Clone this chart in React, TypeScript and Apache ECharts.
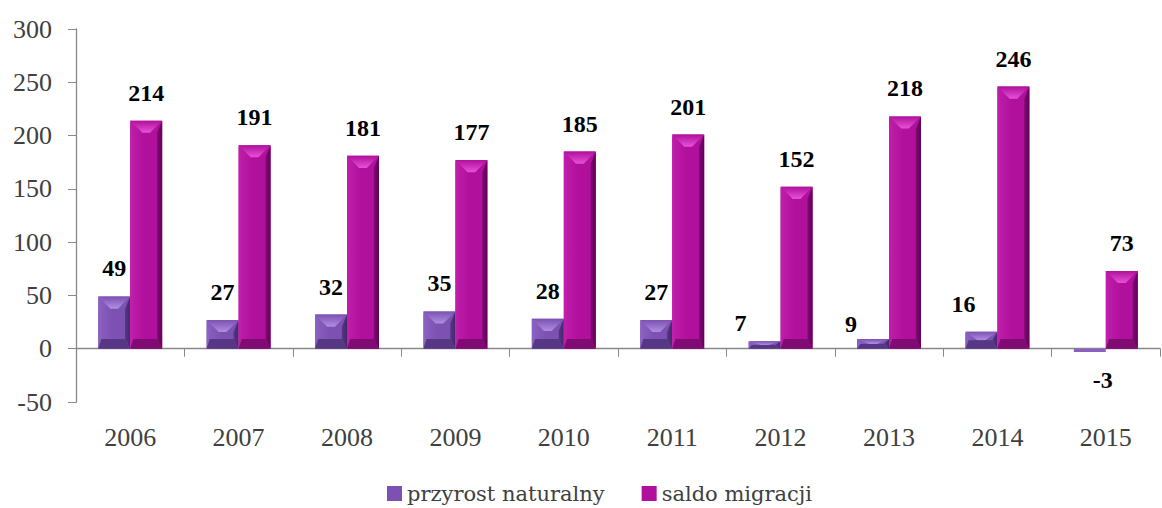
import React, { useEffect, useRef } from "react";
import * as echarts from "echarts";

const years = ["2006", "2007", "2008", "2009", "2010", "2011", "2012", "2013", "2014", "2015"];
const przyrostNaturalny = [49, 27, 32, 35, 28, 27, 7, 9, 16, -3];
const saldoMigracji = [214, 191, 181, 177, 185, 201, 152, 218, 246, 73];
const seriesNames = ["przyrost naturalny", "saldo migracji"];
const yMin = -50;
const yMax = 300;
const yStep = 50;

// manual label nudges (Excel-style hand placement) for the first series, in px
const labelNudge: Record<string, [number, number]> = {
  "2012": [-24, 10],
  "2013": [-22, 13],
  "2014": [-18, 0],
  "2015": [13, 0],
};

const palettes = [
  { face: "#7C51B2", light: "#B08EE2", left: "#8A60C1", dark: "#42296A", bottom: "#553783" },
  { face: "#B0109B", light: "#E652D8", left: "#BE1EAA", dark: "#62005A", bottom: "#800B72" },
];

function makeRender(si: number) {
  const pal = palettes[si];
  return (params: any, api: any) => {
    const i = api.value(0);
    const v = api.value(1);
    const base = api.coord([i, 0]);
    const tip = api.coord([i, v]);
    const band = api.size([1, 0])[0];
    const w = band * 0.295;
    const xc = base[0];
    const x0 = si === 0 ? xc - w : xc;
    const x1 = x0 + w;
    const xm = x0 + w / 2;
    const yTop = Math.min(base[1], tip[1]);
    const yBot = Math.max(base[1], tip[1]);
    const h = yBot - yTop;
    const children: any[] = [];
    if (h < 6) {
      children.push({ type: "rect", shape: { x: x0, y: yTop, width: w, height: h }, style: { fill: pal.left } });
    } else {
      const sl = w * 0.1;
      const sr = w * 0.16;
      const t = Math.min(w * 0.38, h / 2);
      const bt = Math.min(w * 0.3, h / 2);
      children.push({
        type: "rect",
        shape: { x: x0, y: yTop, width: w, height: h },
        style: {
          fill: new echarts.graphic.LinearGradient(0, 0, 1, 0, [
            { offset: 0, color: pal.left },
            { offset: 0.45, color: pal.face },
            { offset: 1, color: pal.face },
          ]),
        },
      });
      children.push({
        type: "polygon",
        shape: { points: [[x0, yTop], [x0 + sl, yTop + t], [x0 + sl, yBot - bt], [x0, yBot]] },
        style: { fill: pal.left },
      });
      children.push({
        type: "polygon",
        shape: { points: [[x1, yTop], [x1 - sr, yTop + t], [x1 - sr, yBot - bt], [x1, yBot]] },
        style: {
          fill: new echarts.graphic.LinearGradient(0, 0, 1, 0, [
            { offset: 0, color: pal.bottom },
            { offset: 1, color: pal.dark },
          ]),
        },
      });
      children.push({
        type: "polygon",
        shape: { points: [[x0, yTop], [x1, yTop], [xm + w * 0.12, yTop + t], [xm - w * 0.12, yTop + t]] },
        style: {
          fill: new echarts.graphic.LinearGradient(0, 0, 0, 1, [
            { offset: 0, color: pal.face },
            { offset: 1, color: pal.light },
          ]),
        },
      });
      children.push({
        type: "polygon",
        shape: { points: [[x0, yBot], [x1, yBot], [x1 - sr, yBot - bt], [x0 + sl, yBot - bt]] },
        style: { fill: pal.bottom },
      });
    }
    const nudge = si === 0 ? labelNudge[years[i]] || [0, 0] : [0, 0];
    const lx = xm + nudge[0];
    const positive = v >= 0;
    children.push({
      type: "text",
      style: {
        text: String(v),
        x: lx,
        y: (positive ? yTop - 16 : yBot + 16) + nudge[1],
        align: "center",
        verticalAlign: positive ? "bottom" : "top",
        font: "bold 24px 'Liberation Serif'",
        fill: "#000000",
      },
    });
    return { type: "group", children };
  };
}

export default function App() {
  const ref = useRef<HTMLDivElement>(null);
  useEffect(() => {
    if (!ref.current) return;
    const chart = echarts.init(ref.current, undefined, { renderer: "svg" });
    const seriesData = [przyrostNaturalny, saldoMigracji];
    chart.setOption({
      animation: false,
      backgroundColor: "#ffffff",
      grid: { left: 76, right: 2, top: 29, bottom: 106, containLabel: false },
      legend: {
        data: seriesNames.map((n, k) => ({ name: n, icon: "rect", itemStyle: { color: palettes[k].face } })),
        left: 382,
        top: 478,
        itemWidth: 15,
        itemHeight: 15,
        itemGap: 37,
        textStyle: { fontFamily: "DejaVu Serif", fontSize: 21, color: "#404040" },
      },
      xAxis: {
        type: "category",
        data: years,
        axisLine: { onZero: true, lineStyle: { color: "#888888", width: 1.3 } },
        axisTick: { show: true, length: 8, lineStyle: { color: "#888888" } },
        axisLabel: { margin: 22, fontFamily: "Liberation Serif", fontSize: 26, color: "#404040" },
        splitLine: { show: false },
      },
      yAxis: {
        type: "value",
        min: yMin,
        max: yMax,
        interval: yStep,
        axisLine: { show: true, lineStyle: { color: "#888888", width: 1.3 } },
        axisTick: { show: true, length: 8, lineStyle: { color: "#888888" } },
        axisLabel: { margin: 24, fontFamily: "Liberation Serif", fontSize: 26, color: "#404040" },
        splitLine: { show: false },
      },
      series: seriesData.map((vals, si) => ({
        type: "custom",
        name: seriesNames[si],
        itemStyle: { color: palettes[si].face },
        encode: { x: 0, y: 1 },
        data: vals.map((v, i) => [i, v]),
        renderItem: makeRender(si),
      })),
    });
    return () => chart.dispose();
  }, []);
  return (
    <div
      ref={ref}
      style={{ position: "absolute", left: 0, top: 0, width: 1162, height: 508, background: "#fff" }}
    />
  );
}
